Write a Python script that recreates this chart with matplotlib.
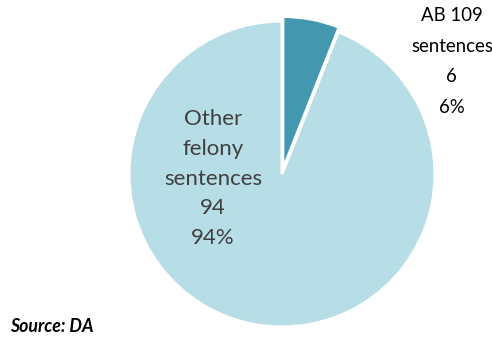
import matplotlib.pyplot as plt

labels = ["AB 109\nsentences", "Other\nfelony\nsentences"]
counts = [6, 94]
colors = ["#4398AF", "#B7DDE7"]
text_colors = ["#000000", "#404040"]
label_pos = [(1.11, 0.735), (-0.45, -0.03)]
label_size = [13.4, 16]
label_spacing = [1.98, 1.6]

plt.rcParams['font.family'] = ['Lato', 'DejaVu Sans']

fig = plt.figure(figsize=(4.92, 3.41), dpi=100)
ax = fig.add_axes([129 / 492, 14 / 341, 306 / 492, 306 / 341])

total = sum(counts)
ax.pie(counts, colors=colors, startangle=90, counterclock=False,
       explode=[0.03, 0], radius=1.0,
       wedgeprops=dict(edgecolor="white", linewidth=2.2))
ax.set_xlim(-1, 1)
ax.set_ylim(-1, 1)
ax.set_aspect('equal')
ax.axis('off')

for lab, n, (x, y), c, fs, ls in zip(labels, counts, label_pos, text_colors,
                                     label_size, label_spacing):
    pct = round(100 * n / total)
    ax.text(x, y, "%s\n%d\n%d%%" % (lab, n, pct), ha='center', va='center',
            fontsize=fs, color=c, linespacing=ls, clip_on=False)

fig.text(10 / 492, 1 - 327 / 341, "Source: DA", fontsize=12.8, fontweight='bold',
         fontstyle='italic', ha='left', va='center', color='black')

fig.savefig("out.png", dpi=100)
